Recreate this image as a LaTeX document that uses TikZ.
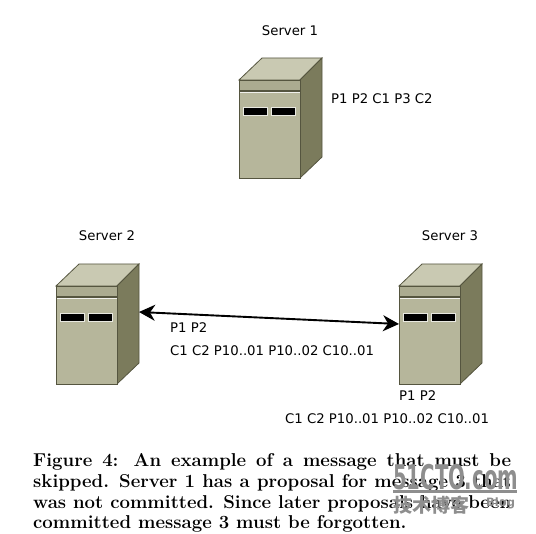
\documentclass[tikz,border=0pt]{standalone}
\usepackage{fontspec}
\setsansfont{DejaVu Sans}
\newfontfamily\cjkfont{Noto Sans CJK SC}
\usetikzlibrary{arrows.meta}
\definecolor{serverfront}{HTML}{B6B69B}
\definecolor{servertop}{HTML}{C9C9B2}
\definecolor{serverside}{HTML}{7B7B5C}
\definecolor{serverband}{HTML}{ABAB90}
\definecolor{serveredge}{HTML}{55553F}
\definecolor{markgray}{HTML}{8E8E8E}
\tikzset{
  label/.style={font=\sffamily\fontsize{13.25}{15}\selectfont, inner sep=0pt},
  arrow/.style={{Stealth[length=16pt,width=16pt,inset=5pt]}-{Stealth[length=16pt,width=16pt,inset=5pt]}, line width=1.9pt},
  pics/server/.style={code={
    \filldraw[fill=servertop, draw=serveredge, line width=.8pt] (0,0) -- (23,-22) -- (83,-22) -- (61,0) -- cycle;
    \filldraw[fill=serverside, draw=serveredge, line width=.8pt] (61,0) -- (83,-22) -- (83,77) -- (61,98) -- cycle;
    \filldraw[fill=serverfront, draw=serveredge, line width=.8pt] (0,0) rectangle (61,98);
    \fill[serverband] (0,0) rectangle (61,10);
    \fill[serveredge] (0,10) rectangle (61,12);
    \draw[white!80!serverfront, line width=.6pt] (0,12.8) -- (61,12.8);
    \foreach \slotx in {4,32} {
      \filldraw[fill=black, draw=white!70!serverfront, line width=.6pt] (\slotx,27) rectangle ++(24,8);
    }
    \draw[serveredge, line width=.8pt] (0,0) rectangle (61,98);
  }}
}
\begin{document}
\begin{tikzpicture}[x=1pt, y=-1pt]
\useasboundingbox (0,0) rectangle (536,534);
% servers
\pic (server1) at (239,80) {server};
\pic (server2) at (56,286) {server};
\pic (server3) at (399,286) {server};

\node[label] (name1) at (290,31) {Server 1};
\node[label] (name2) at (107,236) {Server 2};
\node[label] (name3) at (450,236) {Server 3};

% logs
\node[label, anchor=west] (log1) at (331,99) {P1 P2 C1 P3 C2};
\node[label, anchor=west] (log2a) at (170,328) {P1 P2};
\node[label, anchor=west] (log2b) at (170,351) {C1 C2 P10..01 P10..02 C10..01};
\node[label, anchor=west] (log3a) at (399,396) {P1 P2};
\node[label, anchor=west] (log3b) at (285,419) {C1 C2 P10..01 P10..02 C10..01};

% link
\coordinate (port2) at (139,312);
\coordinate (port3) at (399,324);
\draw[arrow] (port2) -- (port3);

% caption
\node[anchor=north west, inner sep=0pt, text width=478pt, align=justify, font=\rmfamily\bfseries\fontsize{18.6}{20.9}\selectfont] (caption) at (33,453)
  {Figure 4: An example of a message that must be skipped. Server 1 has a proposal for message 3 that was not committed. Since later proposals have been committed message 3 must be forgotten.};

% watermark
\node[inner sep=0pt, text=markgray, font=\sffamily\bfseries\fontsize{34}{36}\selectfont, anchor=west, xscale=.58, transform shape] (mark) at (393,477) {51CTO.com};
\fill[markgray] (393,490) rectangle (517,493);
\node[inner sep=0pt, text=markgray, font=\cjkfont\bfseries\fontsize{19}{22}\selectfont, anchor=west] (markcn) at (393,505) {技术博客};
\node[inner sep=0pt, text=markgray, font=\sffamily\bfseries\fontsize{11.5}{13}\selectfont, anchor=west] (markblog) at (486,503) {Blog};
\end{tikzpicture}
\end{document}
